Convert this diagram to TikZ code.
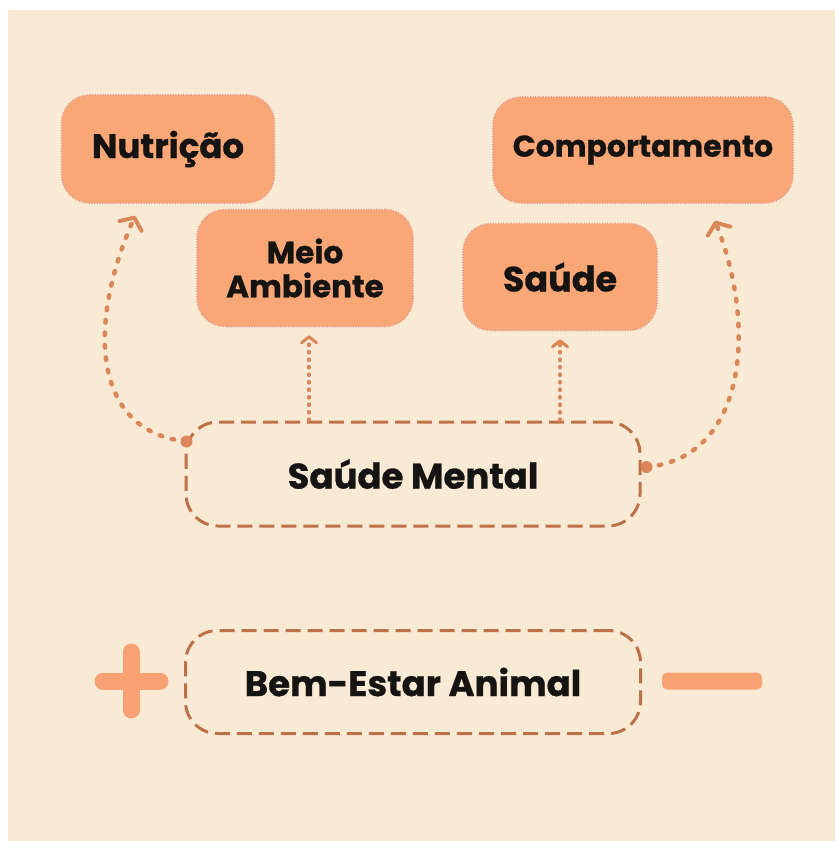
\documentclass[tikz,border=0pt]{standalone}
\usepackage{fontspec}
\setmainfont{Poppins}[BoldFont={* Bold},BoldFeatures={FakeBold=0.8}]
\usetikzlibrary{arrows.meta,calc}
\definecolor{bgc}{HTML}{F9EAD5}
\definecolor{boxfill}{HTML}{FAA778}
\definecolor{boxline}{HTML}{E49A8C}
\definecolor{conn}{HTML}{DA8658}
\definecolor{smline}{HTML}{BD7149}
\definecolor{pm}{HTML}{F8A273}
\definecolor{txt}{HTML}{161412}
\tikzset{
  obox/.style={draw=boxline, fill=boxfill, line width=1.6pt,
    dash pattern=on 1pt off 1.6pt, rounded corners=28pt, align=center,
    text=txt, font=\bfseries, inner sep=0pt},
  dbox/.style={draw=smline, line width=3pt, dash pattern=on 15pt off 7pt,
    rounded corners=32pt, align=center, text=txt, font=\bfseries, inner sep=0pt},
  bigconn/.style={draw=conn, line width=4.5pt, line cap=round,
    dash pattern=on 2.5pt off 10pt,
    -{Straight Barb[length=9pt,width=24pt,line width=4pt,line cap=round,line join=round]}},
  smallconn/.style={draw=conn, line width=3.2pt, line cap=round,
    dash pattern=on 1.5pt off 6pt,
    -{Straight Barb[length=6pt,width=15pt,line width=3pt,line cap=round,line join=round]}},
  pmline/.style={draw=pm, line width=17pt, line cap=round}
}
\begin{document}
\begin{tikzpicture}[x=1pt,y=-1pt]
\useasboundingbox (0,0) rectangle (835,841);
\fill[white] (0,0) rectangle (835,841);
\fill[bgc] (8,10) rectangle (835,841);

\node[obox, minimum width=213pt, minimum height=108pt, font=\bfseries\fontsize{34}{40}\selectfont] (nut) at (168,149) {Nutrição};
\node[obox, minimum width=216pt, minimum height=117pt, font=\bfseries\fontsize{31}{34}\selectfont] (meio) at (305,268) {Meio\\Ambiente};
\node[obox, minimum width=300pt, minimum height=106pt, font=\bfseries\fontsize{30}{36}\selectfont] (comp) at (643,150) {Comportamento};
\node[obox, minimum width=194pt, minimum height=107pt, font=\bfseries\fontsize{35}{40}\selectfont] (sau) at (560,277) {Saúde};
\node[dbox, minimum width=454pt, minimum height=104pt, font=\bfseries\fontsize{35.5}{40}\selectfont] (sm) at (413,474) {Saúde Mental};
\node[dbox, minimum width=455pt, minimum height=103pt, font=\bfseries\fontsize{35.5}{40}\selectfont] (bem) at (413,682) {Bem-Estar Animal};

\coordinate (ls) at ([xshift=2pt,yshift=-21pt]sm.north west);
\coordinate (le) at ([xshift=-33pt,yshift=-12pt]nut.south);
\coordinate (rs) at ([xshift=5pt,yshift=7pt]sm.east);
\coordinate (re) at ([xshift=72pt,yshift=-17pt]comp.south);

\draw[bigconn] (ls) .. controls (95,432) and (85,330) .. (le);
\draw[bigconn] (rs) .. controls (745,458) and (758,330) .. (re);
\fill[conn] (ls) circle (6pt);
\fill[conn] (rs) circle (6pt);

\draw[smallconn] ([xshift=4pt]meio.south |- sm.north) -- ([xshift=4pt,yshift=-8pt]meio.south);
\draw[smallconn] (sau.south |- sm.north) -- ([yshift=-8pt]sau.south);

% plus and minus
\draw[pmline] (103,681) -- (160,681);
\draw[pmline] (131,652) -- (131,710);
\fill[pm, rounded corners=5pt] (662,672.5) rectangle (762,689.5);
\end{tikzpicture}
\end{document}
